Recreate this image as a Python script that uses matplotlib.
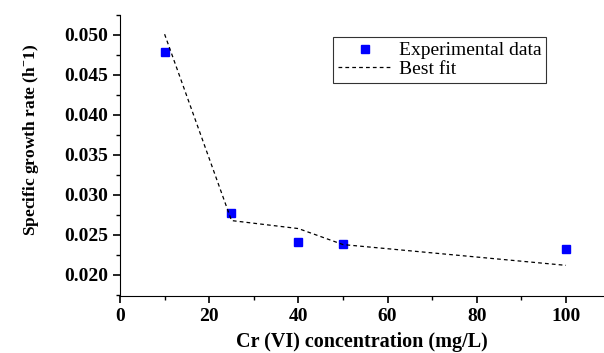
import numpy as np
import matplotlib.pyplot as plt
from matplotlib.ticker import MultipleLocator

conc = [10, 25, 40, 50, 100]
rate_exp = [0.0479, 0.0277, 0.0241, 0.0239, 0.0232]
rate_fit = [0.0501, 0.0268, 0.0258, 0.0238, 0.0212]

plt.rcParams['font.family'] = 'Liberation Serif'
plt.rcParams['mathtext.fontset'] = 'custom'
plt.rcParams['mathtext.rm'] = 'Liberation Serif:bold'

fig = plt.figure(figsize=(6.04, 3.53), dpi=100)
ax = fig.add_axes([120 / 604, 57 / 353, 483 / 604, 281 / 353])

ax.plot(conc, rate_exp, "s", color="#0000ff", markersize=6, label="Experimental data")
ax.plot(conc, rate_fit, "--", color="black", lw=0.9, dashes=(3, 2.5), label="Best fit")

ax.set_xlim(0, 108.3)
ax.set_ylim(0.01737, 0.0525)
ax.xaxis.set_major_locator(MultipleLocator(20))
ax.xaxis.set_minor_locator(MultipleLocator(10))
ax.yaxis.set_major_locator(MultipleLocator(0.005))
ax.yaxis.set_minor_locator(MultipleLocator(0.0025))
ax.yaxis.set_major_formatter(plt.FormatStrFormatter("%.3f"))

ax.spines["top"].set_visible(False)
ax.spines["right"].set_visible(False)
ax.tick_params(which="major", direction="out", length=5, width=1.2, labelsize=14)
ax.tick_params(which="minor", direction="out", length=3, width=1)
for lbl in ax.get_xticklabels() + ax.get_yticklabels():
    lbl.set_fontweight("bold")

ax.set_xlabel("Cr (VI) concentration (mg/L)", fontsize=14.5, fontweight="bold", labelpad=5)
ax.set_ylabel(r"Specific growth rate (h$^{-}$1)", fontsize=12.5, fontweight="bold", labelpad=17)
ax.yaxis.label.set_y(0.555)

leg = ax.legend(loc="upper right", bbox_to_anchor=(0.882, 0.922), fontsize=14,
                frameon=True, fancybox=False, edgecolor="black", borderpad=0.25,
                handlelength=2.8, handletextpad=0.3, labelspacing=0.05, borderaxespad=0)
leg.get_frame().set_linewidth(0.8)

fig.savefig("out.png", dpi=100)
